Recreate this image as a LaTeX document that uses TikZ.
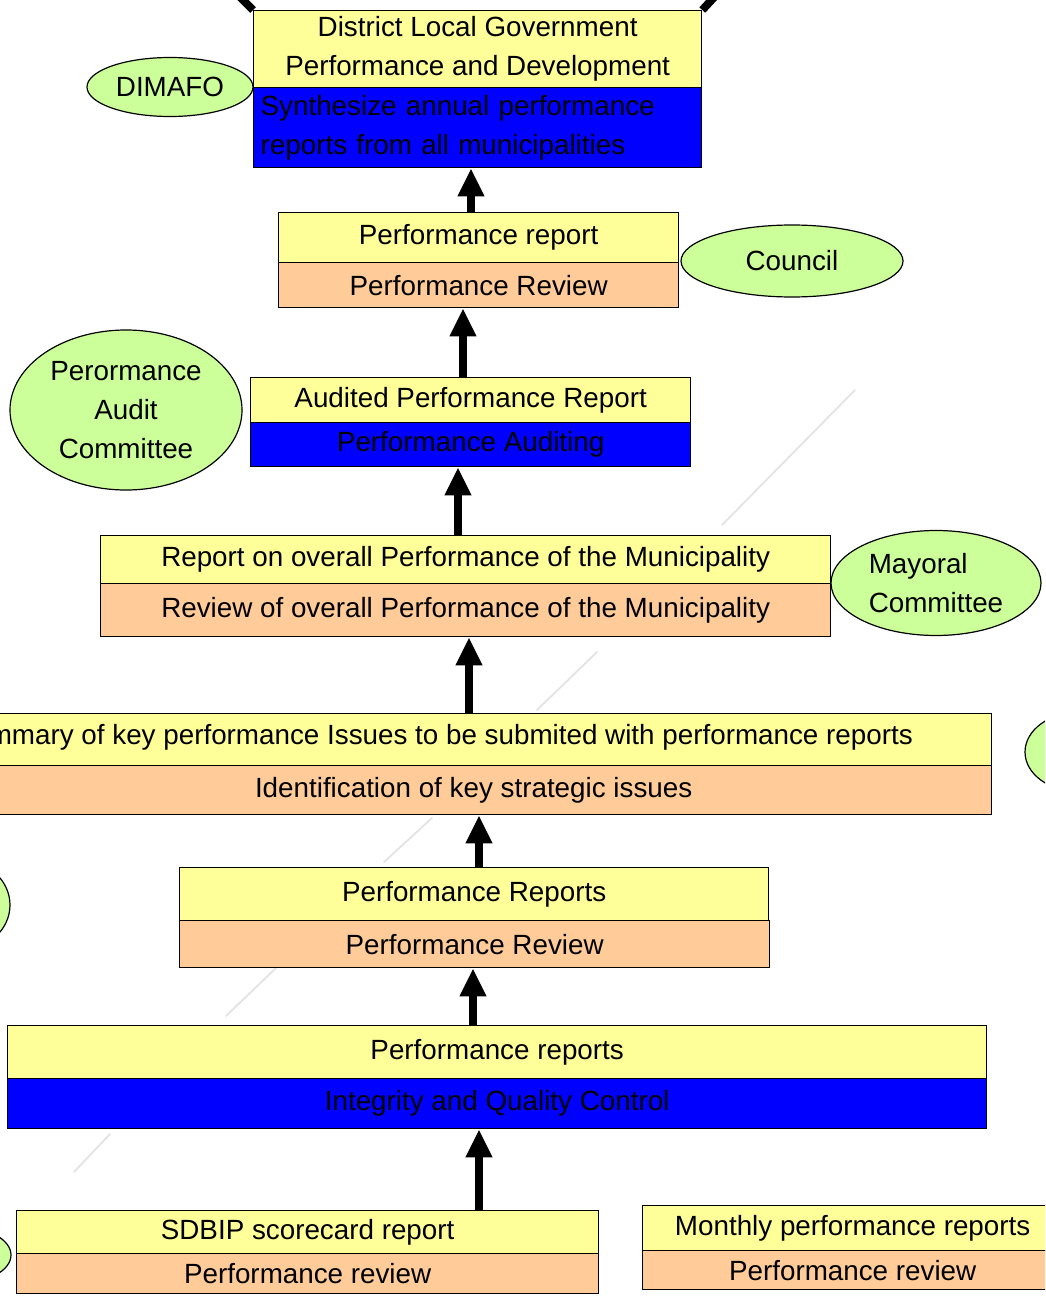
\documentclass[tikz,border=0pt]{standalone}
\usepackage{fontspec}
\setmainfont{Liberation Sans}
\usetikzlibrary{arrows.meta,shapes.geometric}
\newcommand\diagfont{\fontsize{27.8}{39}\selectfont}
\definecolor{cellyellow}{HTML}{FFFF99}
\definecolor{cellpeach}{HTML}{FFCC99}
\definecolor{cellblue}{HTML}{0000FF}
\definecolor{ovalgreen}{HTML}{CCFF99}
\begin{document}
\begin{tikzpicture}[x=1pt,y=-1pt,
  cell/.style={draw=black,line width=1.3pt,rectangle,inner sep=0pt,
    anchor=north west,font=\diagfont,align=center},
  yel/.style={cell,fill=cellyellow},
  pch/.style={cell,fill=cellpeach},
  blu/.style={cell,fill=cellblue},
  oval/.style={draw=black,line width=1.2pt,fill=ovalgreen,ellipse,
    inner sep=0pt,font=\diagfont,align=center},
  uparrow/.style={line width=8pt,-{Triangle[width=25pt,length=28pt]}},
  faint/.style={draw=gray!22,line width=1.8pt,line cap=round}
]
\useasboundingbox (0,0) rectangle (1045,1311);
\clip (0,0) rectangle (1045,1311);

% faint diagonal strokes in the background
\draw[faint] (722,525) -- (855,390);
\draw[faint] (537,710) -- (597,652);
\draw[faint] (384,862) -- (432,818);
\draw[faint] (226,1016) -- (276,968);
\draw[faint] (74,1172) -- (110,1134);

% district level
\node[yel,minimum width=448pt,minimum height=77pt] (b1t) at (253,10)
  {District Local Government\\Performance and Development};
\node[blu,text width=434pt,inner xsep=7pt,minimum height=80pt,align=left] (b1b) at (253,87)
  {Synthesize annual performance\\reports from all municipalities};
\coordinate (tl) at (236,-7);
\coordinate (tr) at (718,-7);
\draw[line width=8pt] (b1t.north west) -- (tl);
\draw[line width=8pt] (b1t.north east) -- (tr);
\node[oval,minimum width=166pt,minimum height=59pt] (dimafo) at (170,87) {DIMAFO};

% council
\node[yel,minimum width=400pt,minimum height=50pt] (b2t) at (278,212) {Performance report};
\node[pch,minimum width=400pt,minimum height=45pt] (b2b) at (278,262) {Performance Review};
\node[oval,minimum width=222pt,minimum height=72pt] (council) at (792,261) {Council};

% audit
\node[yel,minimum width=440pt,minimum height=45pt] (b3t) at (250,377) {Audited Performance Report};
\node[blu,minimum width=440pt,minimum height=44pt] (b3b) at (250,422) {Performance Auditing};
\node[oval,minimum width=232pt,minimum height=160pt] (pac) at (126,410)
  {Perormance\\Audit\\Committee};

% municipality
\node[yel,minimum width=730pt,minimum height=48pt] (b4t) at (100,535)
  {Report on overall Performance of the Municipality};
\node[pch,minimum width=730pt,minimum height=53pt] (b4b) at (100,583)
  {Review of overall Performance of the Municipality};
\node[oval,minimum width=210pt,minimum height=105pt,align=left] (mayor) at (936,583)
  {Mayoral\\Committee};

% key issues
\node[yel,minimum width=1036pt,minimum height=52pt] (b5t) at (-45,713) {};
\node[font=\diagfont,anchor=east,inner sep=0pt] (b5txt) at (913,737)
  {Summary of key performance Issues to be submited with performance reports};
\node[pch,minimum width=1036pt,minimum height=49pt] (b5b) at (-45,765)
  {Identification of key strategic issues};
\node[oval,minimum width=110pt,minimum height=80pt] (ovr) at (1080,752) {};
\node[oval,minimum width=100pt,minimum height=90pt] (ovl) at (-40,905) {};

% departmental reports
\node[yel,minimum width=589pt,minimum height=53pt] (b6t) at (179,867) {Performance Reports};
\node[pch,minimum width=590pt,minimum height=47pt] (b6b) at (179,920) {Performance Review};

% internal audit
\node[yel,minimum width=979pt,minimum height=53pt] (b7t) at (7,1025) {Performance reports};
\node[blu,minimum width=979pt,minimum height=50pt] (b7b) at (7,1078) {Integrity and Quality Control};

% base level
\node[yel,minimum width=582pt,minimum height=43pt] (b8t) at (16,1210) {SDBIP scorecard report};
\node[pch,minimum width=582pt,minimum height=40pt] (b8b) at (16,1253) {Performance review};
\node[oval,minimum width=102pt,minimum height=56pt] (ovb) at (-40,1255) {};
\node[yel,minimum width=420pt,minimum height=45pt] (b9t) at (642,1205) {Monthly performance reports};
\node[pch,minimum width=420pt,minimum height=39pt] (b9b) at (642,1250) {Performance review};

% upward flow
\coordinate (x1) at (471,0);
\coordinate (x2) at (463,0);
\coordinate (x3) at (458,0);
\coordinate (x4) at (469,0);
\coordinate (x5) at (479,0);
\coordinate (x6) at (473,0);
\coordinate (x7) at (479,0);
\draw[uparrow] (b2t.north -| x1) -- (b1b.south -| x1);
\draw[uparrow] (b3t.north -| x2) -- (b2b.south -| x2);
\draw[uparrow] (b4t.north -| x3) -- (b3b.south -| x3);
\draw[uparrow] (b5t.north -| x4) -- (b4b.south -| x4);
\draw[uparrow] (b6t.north -| x5) -- (b5b.south -| x5);
\draw[uparrow] (b7t.north -| x6) -- (b6b.south -| x6);
\draw[uparrow] (b8t.north -| x7) -- (b7b.south -| x7);
\end{tikzpicture}
\end{document}
